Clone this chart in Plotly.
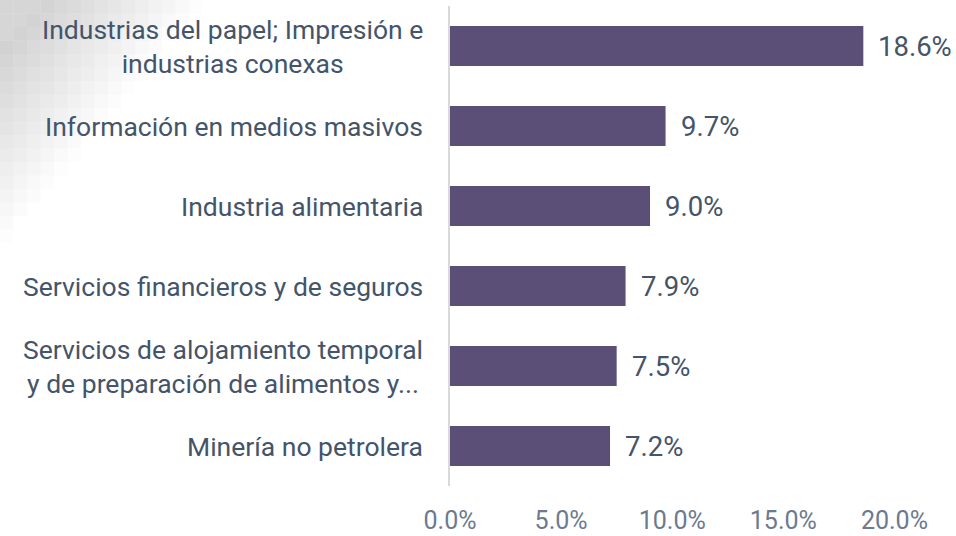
import plotly.graph_objects as go

categories = [
    "Industrias del papel; Impresión e<br>industrias conexas",
    "Información en medios masivos",
    "Industria alimentaria",
    "Servicios financieros y de seguros",
    "Servicios de alojamiento temporal<br>y de preparación de alimentos y...",
    "Minería no petrolera",
]
values = [18.6, 9.7, 9.0, 7.9, 7.5, 7.2]
tick_vals = [0, 5, 10, 15, 20]
tick_text = ["0.0%", "5.0%", "10.0%", "15.0%", "20.0%"]

BAR = "#5b4f77"
TXT = "#44546a"
FONT = "Roboto"

W, H = 956, 536
L, R, T, B = 450, 6, 6, 50
pw, ph = W - L - R, H - T - B

fig = go.Figure()
fig.add_trace(go.Bar(
    y=categories, x=values, orientation="h",
    marker=dict(color=BAR, line=dict(width=0)),
    width=0.5,
    hoverinfo="skip",
))

# value labels
for c, v in zip(categories, values):
    fig.add_annotation(
        x=v, xref="x", y=c, yref="y",
        text=f"{v:.1f}%", showarrow=False, xanchor="left", xshift=13,
        font=dict(family=FONT, size=27.5, color=TXT),
    )

# category labels as centered annotations
for c in categories:
    fig.add_annotation(
        x=0, xref="paper", y=c, yref="y",
        text=c, showarrow=False, xanchor="right", xshift=-25,
        align="center",
        font=dict(family=FONT, size=26.5, color=TXT),
    )

# decorative pixel gradient in top-left corner
shapes = []
def px2paper(x, y):
    return (x - L) / pw, (H - B - y) / ph
s = 13.5
for i in range(16):
    for j in range(19):
        x0, y0 = i * s, j * s
        d = (x0 * 1.15 + y0 * 0.95) / 225.0
        op = 0.40 * (1 - d)
        if op <= 0.01:
            continue
        if x0 + y0 < 40:
            op = 0.30
        a, b = px2paper(x0, y0)
        c, e = px2paper(x0 + s, y0 + s)
        shapes.append(dict(type="rect", xref="paper", yref="paper",
                           x0=a, x1=c, y0=e, y1=b, fillcolor="#777777",
                           opacity=op, line=dict(width=0), layer="below"))
fig.update_layout(shapes=shapes)

fig.update_layout(
    width=W, height=H,
    margin=dict(l=L, r=R, t=T, b=B, autoexpand=False),
    paper_bgcolor="white", plot_bgcolor="rgba(0,0,0,0)",
    showlegend=False,
    font=dict(family=FONT, color=TXT),
    xaxis=dict(range=[0, 22.5], tickvals=tick_vals, ticktext=tick_text,
               showgrid=False, zeroline=False, showline=False, automargin=False,
               tickfont=dict(family=FONT, size=25, color="#6b7a8f"),
               ticks="outside", ticklen=12, tickcolor="rgba(0,0,0,0)"),
    yaxis=dict(categoryorder="array", categoryarray=categories[::-1],
               showticklabels=False, showgrid=False, zeroline=False, automargin=False,
               showline=True, linecolor="#d9d9d9", linewidth=1.5, ticks=""),
)

fig.write_html("out.html", post_script="document.body.style.margin='0';",
               config={"displayModeBar": False})
